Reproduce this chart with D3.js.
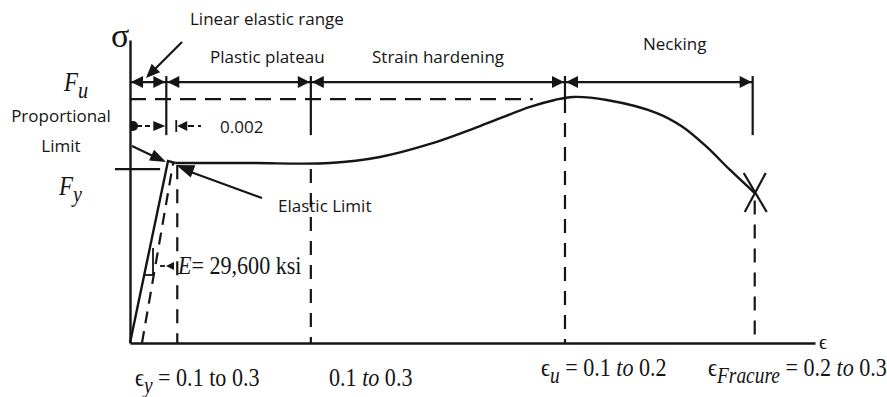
<!DOCTYPE html>
<html>
<head>
<meta charset="utf-8">
<script src="https://cdn.jsdelivr.net/npm/d3@7"></script>
<style>
  html, body { margin: 0; padding: 0; background: #fff; }
  svg { display: block; }
  .sans { font-family: "Open Sans", sans-serif; font-size: 17px; fill: #151515; }
  .serif { font-family: "Liberation Serif", "Times New Roman", "DejaVu Serif", serif; fill: #151515; }
</style>
</head>
<body>
<div id="chart"></div>
<script>
// stress-strain schematic, both axes in % of axis length
const stageNames = ["Linear elastic range", "Plastic plateau", "Strain hardening", "Necking"];
const stageBounds = [0, 5.3, 26.4, 63.5, 90.9];

const curveStrain = [0, 5.55, 6.6, 17.5, 29.2, 36.5, 43.8, 51.1, 58.4, 62.0, 64.7, 69.6, 76.9, 80.7, 84.2, 87.6, 91.2];
const curveStress = [0, 60.1, 59.4, 59.4, 59.4, 61.4, 65.7, 71.6, 77.9, 80.2, 81.2, 80.2, 75.9, 71.3, 64.7, 57.1, 49.5];

const offsetStrain = [1.75, 6.3];   // 0.002 offset line
const offsetStress = [0, 59.4];

const levelNames = ["u", "y"];       // F_u, F_y
const levelValues = [80.5, 57.4];

const markStrain = [6.9, 26.4, 63.5, 91.2];
const markTop = [58.7, 57.4, 80.5, 47];
const markLabels = [
  [["ϵ", ""], ["y", "subi"], [" = 0.1 to 0.3", ""]],
  [["0.1 ", ""], ["to", "i"], [" 0.3", ""]],
  [["ϵ", ""], ["u", "subi"], [" = 0.1 ", ""], ["to", "i"], [" 0.2", ""]],
  [["ϵ", ""], ["Fracure", "subi"], [" = 0.2 ", ""], ["to", "i"], [" 0.3", ""]]
];

const W = 887, H = 397;
const ink = "#151515";

const svg = d3.select("#chart").append("svg")
    .attr("width", W)
    .attr("height", H);

const x = d3.scaleLinear().domain([0, 100]).range([130, 815]);
const y = d3.scaleLinear().domain([0, 100]).range([343, 40]);

// axes
svg.append("g")
    .attr("transform", `translate(0,${y(0)})`)
    .call(d3.axisBottom(x).tickValues([]).tickSizeOuter(0))
    .select(".domain").attr("stroke", ink).attr("stroke-width", 2.4);
svg.append("g")
    .attr("transform", `translate(${x(0)},0)`)
    .call(d3.axisLeft(y).tickValues([]).tickSizeOuter(0))
    .select(".domain").attr("stroke", ink).attr("stroke-width", 2.4);

function arrowHead(tx, ty, ang, len = 12, hw = 5.5) {
  const c = Math.cos(ang), s = Math.sin(ang);
  const bx = tx - c * len, by = ty - s * len;
  svg.append("path")
      .attr("d", `M${tx},${ty}L${bx - s * hw},${by + c * hw}L${bx + s * hw},${by - c * hw}Z`)
      .attr("fill", ink);
}
function seg(x1, y1, x2, y2, dash, w = 2) {
  svg.append("line")
      .attr("x1", x1).attr("y1", y1).attr("x2", x2).attr("y2", y2)
      .attr("stroke", ink).attr("stroke-width", w)
      .attr("stroke-dasharray", dash || null);
}
function serifText(px, py, parts, size) {
  const t = svg.append("text")
      .attr("class", "serif")
      .attr("transform", `translate(${px},${py}) scale(0.85,1)`)
      .style("font-size", size + "px");
  let shift = 0;
  parts.forEach(([s, st]) => {
    const sub = st.startsWith("sub");
    const target = sub ? Math.round(size * 0.25) : 0;
    t.append("tspan")
        .attr("dy", target - shift)
        .style("font-style", st.includes("i") ? "italic" : "normal")
        .style("font-size", (sub ? size * 0.88 : size) + "px")
        .text(s);
    shift = target;
  });
  return t;
}

// Fu dashed level
seg(x(0), y(levelValues[0]), x(58.8), y(levelValues[0]), "16,9", 2.2);
// Fy tick
seg(x(-2.2), y(levelValues[1]), x(4.4), y(levelValues[1]), null, 2.2);

// dashed strain marks
markStrain.forEach((m, i) => {
  seg(x(m), y(markTop[i]), x(m), y(0), "14,10", 2.2);
});

// offset line
seg(x(offsetStrain[0]), y(offsetStress[0]), x(offsetStrain[1]), y(offsetStress[1]), "12,8", 2.2);

// stress-strain curve
const pts = curveStrain.map((d, i) => [x(d), y(curveStress[i])]);
svg.append("path")
    .attr("d", d3.line()(pts.slice(0, 3)))
    .attr("fill", "none").attr("stroke", ink).attr("stroke-width", 2.4);
svg.append("path")
    .attr("d", d3.line().curve(d3.curveCatmullRom.alpha(0.5))(pts.slice(2)))
    .attr("fill", "none").attr("stroke", ink).attr("stroke-width", 2.4);

// fracture X
const fx = x(curveStrain[curveStrain.length - 1]), fy = y(curveStress[curveStress.length - 1]);
seg(fx - 11, fy - 20, fx + 12, fy + 19, null, 2.2);
seg(fx + 11, fy - 20, fx - 10, fy + 19, null, 2.2);

// stage dimension line
const dimY = y(86.1);
seg(x(stageBounds[0]), dimY, x(stageBounds[4]), dimY, null, 2.4);
stageBounds.forEach((b, i) => {
  if (i === 0) return;
  const bottom = b === 63.5 ? 80.5 : 68.6;
  seg(x(b), y(88.1), x(b), y(bottom), null, 2.2);
});
for (let i = 0; i < 4; i++) {
  arrowHead(x(stageBounds[i]) + 1, dimY, Math.PI, 12, 6);
  arrowHead(x(stageBounds[i + 1]) - 1, dimY, 0, 12, 6);
}

const stageLabelPos = [[190, 25], [210, 63], [372, 63], [643, 50]];
stageNames.forEach((n, i) => {
  svg.append("text").attr("class", "sans")
      .attr("x", stageLabelPos[i][0]).attr("y", stageLabelPos[i][1])
      .text(n);
});
// leader for linear elastic range
seg(182, 42, 152, 72, null, 2.2);
arrowHead(146, 78, Math.atan2(36, -36), 14, 6);

// 0.002 offset dimension
const oy = y(71.6);
svg.append("path")
    .attr("d", `M131,${oy - 5}h2a5,5 0 0 1 0,10h-2z`)
    .attr("fill", ink);
seg(137, oy, 152, oy, "5,3", 2);
arrowHead(x(stageBounds[1]) - 1, oy, 0, 12, 5);
seg(x(6.75), oy - 6, x(6.75), oy + 6, null, 1.8);
arrowHead(x(6.75) + 1, oy, Math.PI, 10, 5);
seg(188, oy, 201, oy, "6,4", 2);
svg.append("text").attr("class", "sans").attr("x", 220).attr("y", 133).text("0.002");

// proportional limit
svg.append("text").attr("class", "sans").attr("text-anchor", "middle")
    .attr("x", 61).attr("y", 122).text("Proportional");
svg.append("text").attr("class", "sans").attr("text-anchor", "middle")
    .attr("x", 61).attr("y", 152).text("Limit");
seg(132, 146, 155, 157, null, 2.2);
arrowHead(pts[1][0] - 2, pts[1][1] + 1, Math.atan2(16, 34), 16, 6);

// elastic limit
svg.append("text").attr("class", "sans").attr("x", 278).attr("y", 212).text("Elastic Limit");
seg(262, 198, 188, 171, null, 2.2);
arrowHead(pts[2][0] + 1, pts[2][1] + 2, Math.atan2(-33, -88), 18, 6.5);

// modulus annotation
const ty0 = 275;
seg(144, ty0, 153, ty0, null, 1.8);
seg(153, ty0, 153, 248, null, 1.8);
seg(160, 266, 165, 266, null, 1.8);
arrowHead(166, 266, Math.PI, 8, 4);
serifText(178, 274, [["E", "i"], ["= 29,600 ksi", ""]], 26);

// level labels
serifText(64, 91, [["F", "i"], [levelNames[0], "subi"]], 27);
serifText(59, 195, [["F", "i"], [levelNames[1], "subi"]], 27);

// axis symbols
svg.append("text").attr("class", "serif").attr("x", 111).attr("y", 47)
    .style("font-size", "34px").text("σ");
svg.append("text").attr("class", "serif").attr("x", x(100) + 4).attr("y", y(0) + 6)
    .style("font-size", "20px").text("ϵ");

// strain labels under the axis
const markLabelPos = [[135, 386], [329, 386], [541, 376], [708, 376]];
markLabels.forEach((parts, i) => {
  serifText(markLabelPos[i][0], markLabelPos[i][1], parts, 26);
});
</script>
</body>
</html>
